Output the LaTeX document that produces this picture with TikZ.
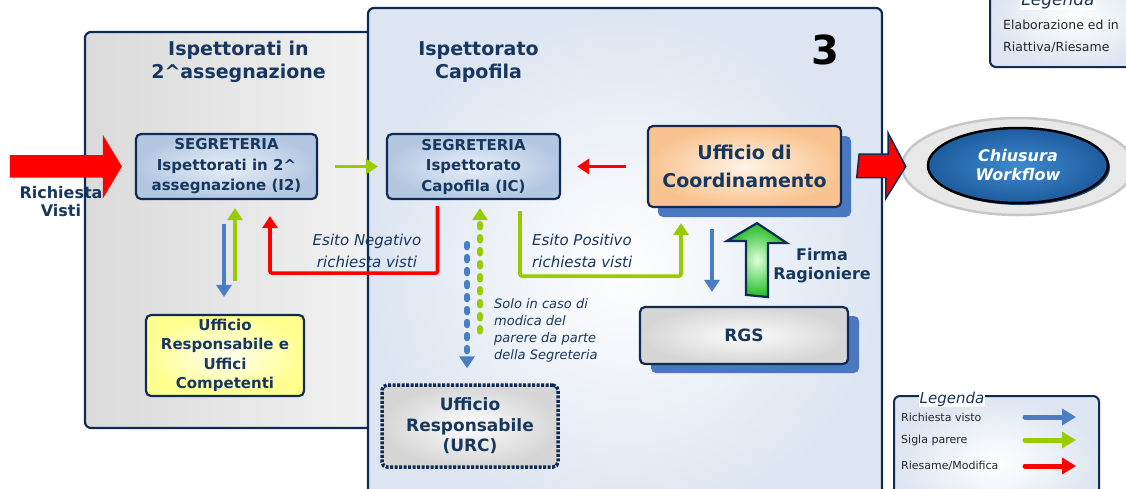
\documentclass[tikz,border=0pt]{standalone}
\usepackage{fontspec}
\setmainfont{DejaVu Sans}
\usetikzlibrary{arrows.meta,shapes.geometric,shadows,calc}
\definecolor{cNavy}{HTML}{17375E}
\definecolor{cEdge}{HTML}{0E2A55}
\definecolor{cBlue}{HTML}{4A7EC4}
\definecolor{cGreen}{HTML}{99CC00}
\definecolor{cRed}{HTML}{FF0000}
\definecolor{cShadow}{HTML}{4A78C0}
\definecolor{cBlueIn}{HTML}{E8EFF8}
\definecolor{cBlueOut}{HTML}{B3C7E1}
\definecolor{cOrIn}{HTML}{FFF3E6}
\definecolor{cOrOut}{HTML}{F9C38F}
\definecolor{cYelIn}{HTML}{FFFFF2}
\definecolor{cYelOut}{HTML}{FFFF8F}
\definecolor{cGrIn}{HTML}{FCFCFC}
\definecolor{cGrOut}{HTML}{D6D6D6}
\definecolor{cPanL}{HTML}{DADADA}
\definecolor{cPanR}{HTML}{F6F6F6}
\definecolor{cPanOut}{HTML}{DCE5F1}
\definecolor{cGreenIn}{HTML}{DDFFDD}
\definecolor{cGreenOut}{HTML}{22BB22}
\definecolor{cEllIn}{HTML}{3E8ACF}
\definecolor{cEllOut}{HTML}{1D5C9E}
\definecolor{cEllSh}{HTML}{1F4E79}
\newcommand\setfs[2]{\fontsize{#1}{#2}\selectfont}
\begin{document}
\begin{tikzpicture}[x=1pt,y=-1pt,
  panel/.style={draw=cEdge, line width=2.2pt, rounded corners=6pt},
  box/.style={draw=cEdge, line width=2.2pt, rounded corners=5pt, align=center, text=cNavy, inner sep=0pt},
  bluebox/.style={box, inner color=cBlueIn, outer color=cBlueOut, font=\bfseries\setfs{15}{20.5}},
  orbox/.style={box, inner color=cOrIn, outer color=cOrOut, font=\bfseries\setfs{19}{28},
     drop shadow={shadow xshift=10pt, shadow yshift=-10pt, fill=cShadow, opacity=1}},
  yelbox/.style={box, inner color=cYelIn, outer color=cYelOut, font=\bfseries\setfs{15}{19.5}},
  graybox/.style={box, inner color=cGrIn, outer color=cGrOut},
  arr/.style={line width=3.6pt, -{Triangle[length=12pt,width=15pt]}},
  barr/.style={arr, draw=cBlue},
  garr/.style={arr, draw=cGreen},
  rarr/.style={arr, draw=cRed},
  dotarr/.style={line width=6.5pt, line cap=round, dash pattern=on 3pt off 10pt, -{Triangle[length=12pt,width=15pt]}},
  lbl/.style={text=cNavy, font=\itshape\setfs{15}{22}, align=center, inner sep=0pt},
  bold/.style={text=cNavy, font=\bfseries\setfs{16}{18.5}, align=center, inner sep=0pt},
  legtxt/.style={anchor=west, inner sep=0pt, text=black!85, font=\setfs{11}{13}},
  legarr/.style={line width=5pt, line cap=round, -{Triangle[length=14pt,width=16pt]}},
]
\useasboundingbox (0,0) rectangle (1126,488);

% panels
\shadedraw[panel, left color=cPanL, right color=cPanR] (85,32) rectangle (420,428);
\shadedraw[panel, inner color=white, outer color=cPanOut] (368,8) rectangle (882,530);

% top-right legend (cut by the page edge)
\shadedraw[panel, line width=2pt, inner color=white, outer color=cPanOut] (990,-30) rectangle (1160,67);
\node[fill=white, inner sep=1pt, text=cNavy, font=\itshape\setfs{17}{20}] (legtopt) at (1058,1) {Legenda};
\node[legtxt, anchor=base west, font=\setfs{12.5}{14}] (legtop1) at (1003,29) {Elaborazione ed in};
\node[legtxt, anchor=base west, font=\setfs{12.5}{14}] (legtop2) at (1003,51) {Riattiva/Riesame};

% titles
\node[text=cNavy, font=\bfseries\setfs{19}{23}, align=center, inner sep=0pt] (t1) at (238.5,62) {Ispettorati in\\2\textasciicircum assegnazione};
\node[text=cNavy, font=\bfseries\setfs{19}{23}, align=center, inner sep=0pt] (t2) at (478.5,62) {Ispettorato\\Capofila};
\node[text=black, font=\bfseries\setfs{40}{44}, inner sep=0pt] (num) at (825,50) {3};

% boxes
\node[bluebox, minimum width=181, minimum height=65] (i2) at (226.5,166.5) {SEGRETERIA\\Ispettorati in 2\textasciicircum\\assegnazione (I2)};
\node[bluebox, minimum width=173, minimum height=65] (ic) at (473.5,166.5) {SEGRETERIA\\Ispettorato\\Capofila (IC)};
\node[orbox, minimum width=193, minimum height=81] (uc) at (744.5,166.5) {Ufficio di\\Coordinamento};
\node[yelbox, minimum width=158, minimum height=81] (yel) at (225,355.5) {Ufficio\\Responsabile e\\Uffici\\Competenti};
\node[graybox, minimum width=176, minimum height=82, font=\bfseries\setfs{17}{20.5},
      line width=3.5pt, dash pattern=on 3pt off 1.5pt] (urc) at (470,426) {Ufficio\\Responsabile\\(URC)};
\node[graybox, minimum width=208, minimum height=57, font=\bfseries\setfs{17}{20},
      drop shadow={shadow xshift=11pt, shadow yshift=-9pt, fill=cShadow, opacity=1}] (rgs) at (744,335.5) {RGS};

% closing ellipse
\node[ellipse, minimum width=232, minimum height=97, inner sep=0pt, fill=black!9, draw=black!22, line width=2.5pt] (cwo) at (1018,166.5) {};
\node[ellipse, minimum width=180, minimum height=75, inner sep=0pt, draw=black, line width=2.5pt,
      inner color=cEllIn, outer color=cEllOut, text=white, font=\bfseries\itshape\setfs{16}{19}, align=center,
      drop shadow={shadow xshift=2pt, shadow yshift=-2pt, fill=cEllSh, opacity=1}] (cw) at (1018,165.5) {Chiusura\\Workflow};

% big red arrows
\fill[cRed] ($(i2.west)+(-125,-11.5)$) -- ++(93,0) -- ++(0,-20) -- ($(i2.west)+(-13,0)$) -- ++(-19,32) -- ++(0,-21) -- ++(-93,0) -- cycle;
\filldraw[fill=cRed, draw=cEdge, line width=1.5pt] ($(uc.east)+(17,-12.5)$) -- ++(29,0) -- ++(0,-21) -- ($(cwo.west)+(5,0)$) -- ++(-20,32) -- ++(0,-21) -- ++(-29,0) -- cycle;

% Richiesta visti
\node[bold, font=\bfseries\setfs{16}{18}] (rv) at (61,202) {Richiesta\\Visti};

% connectors
\draw[garr] ([xshift=17pt]i2.east) -- ([xshift=-8pt]ic.west);
\draw[rarr] ([xshift=-21pt]uc.west) -- ([xshift=16pt]ic.east);
\draw[barr] ($(i2.south)+(-2.5,24)$) -- ($(yel.north)+(-1,-17)$);
\draw[garr] ($(yel.north)+(10,-33)$) -- ($(i2.south)+(8.5,8)$);
\draw[rarr, rounded corners=2pt] ($(ic.south)+(-36,6)$) -- ++(0,67) -| ($(i2.south)+(43.5,16)$);
\draw[garr, rounded corners=2pt] ($(ic.south)+(46.5,11)$) -- ++(0,65) -| ($(uc.south)+(-63.5,15)$);
\draw[dotarr, draw=cGreen] ($(urc.north)+(10,-52)$) -- ($(ic.south)+(6.5,8)$);
\draw[dotarr, draw=cBlue] ($(ic.south)+(-6.5,44)$) -- ($(urc.north)+(-3,-15)$);
\draw[barr] ($(uc.south)+(-32.5,21)$) -- ($(rgs.north)+(-32,-14)$);
\shadedraw[draw=cEdge, line width=2.2pt, inner color=cGreenIn, outer color=cGreenOut]
  ($(rgs.north)+(2,-11)$) -- ++(0,-54) -- ++(-19,0) -- ($(uc.south)+(12.5,15)$) -- ++(30,20) -- ++(-19,0) -- ++(0,54) -- cycle;

% labels
\node[lbl] (neg) at (367,251) {Esito Negativo\\richiesta visti};
\node[lbl, anchor=west, align=left] (pos) at (532,251) {Esito Positivo\\richiesta visti};
\node[lbl, anchor=west, align=left, font=\itshape\setfs{13}{17}] (solo) at (494,330.5) {Solo in caso di\\modica del\\parere da parte\\della Segreteria};
\node[bold] (firma) at (822,265.5) {Firma\\Ragioniere};

% bottom legend
\shadedraw[panel, line width=2pt, inner color=white, outer color=cPanOut] (894,396) rectangle (1099,530);
\node[fill=white, inner sep=1pt, text=cNavy, font=\itshape\setfs{15}{18}] (legt) at (952,399) {Legenda};
\node[legtxt] (lg1) at (901,417) {Richiesta visto};
\node[legtxt] (lg2) at (901,440) {Sigla parere};
\node[legtxt] (lg3) at (901,466) {Riesame/Modifica};
\coordinate (a1s) at (1025,417); \coordinate (a1e) at (1076,417);
\coordinate (a2s) at (1025,440); \coordinate (a2e) at (1076,440);
\coordinate (a3s) at (1025,466); \coordinate (a3e) at (1076,466);
\draw[legarr, draw=cBlue] (a1s) -- (a1e);
\draw[legarr, draw=cGreen] (a2s) -- (a2e);
\draw[legarr, draw=cRed] (a3s) -- (a3e);
\end{tikzpicture}
\end{document}
